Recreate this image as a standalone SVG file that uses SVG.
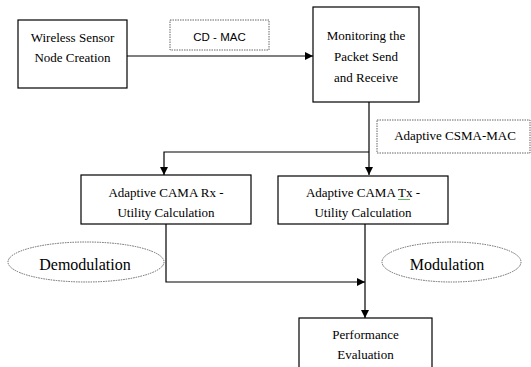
<svg xmlns="http://www.w3.org/2000/svg" width="531" height="367" viewBox="0 0 531 367">
<defs>
<style>
.box{fill:#fff;stroke:#000;stroke-width:1.2}
.lbl{fill:#fff;stroke:#666;stroke-width:1;stroke-dasharray:1.5 1}
.t{font-family:"Liberation Serif","Times New Roman",serif;font-size:13px;fill:#000;text-anchor:middle}
.big{font-size:16px}
.s{font-family:"Liberation Sans",Arial,sans-serif;font-size:11.5px;fill:#000;text-anchor:middle}
.c{fill:none;stroke:#000;stroke-width:1.2}
</style>
<marker id="ah" viewBox="0 0 10 10" refX="10" refY="5" markerWidth="8" markerHeight="8" markerUnits="userSpaceOnUse" orient="auto">
<path d="M0,0 L10,5 L0,10 z" fill="#000"/>
</marker>
</defs>
<rect width="531" height="367" fill="#fff"/>
<g id="connectors">
<path class="c" d="M127,56 H313" stroke="#444" stroke-width="1.8" marker-end="url(#ah)"/>
<path class="c" d="M369,102 V175" marker-end="url(#ah)"/>
<path class="c" d="M369,152 H164 V175" marker-end="url(#ah)"/>
<path class="c" d="M166,224 V282 H365" marker-end="url(#ah)"/>
<path class="c" d="M365,224 V318" marker-end="url(#ah)"/>
</g>
<g id="wireless">
<rect class="box" x="18" y="20" width="109" height="68"/>
<text class="t" x="72.5" y="42">Wireless Sensor</text>
<text class="t" x="72.5" y="62">Node Creation</text>
</g>
<g id="cdmac">
<rect class="lbl" x="170" y="20" width="99" height="30"/>
<text class="s" x="219.5" y="41">CD - MAC</text>
</g>
<g id="monitoring">
<rect class="box" x="313" y="7" width="106" height="95"/>
<text class="t" x="366" y="40">Monitoring the</text>
<text class="t" x="366" y="61">Packet Send</text>
<text class="t" x="366" y="82">and Receive</text>
</g>
<g id="csma">
<rect class="lbl" x="377" y="120" width="153" height="33"/>
<text class="t" x="455" y="140">Adaptive CSMA-MAC</text>
</g>
<g id="rx">
<rect class="box" x="81" y="175" width="170" height="49"/>
<text class="t" x="166" y="197">Adaptive CAMA Rx -</text>
<text class="t" x="166" y="217">Utility Calculation</text>
</g>
<g id="tx">
<rect class="box" x="278" y="176" width="170" height="48"/>
<text class="t" x="363" y="197">Adaptive CAMA Tx -</text>
<path d="M398,200 l1,-1 1,1 1,-1 1,1 1,-1 1,1 1,-1 1,1 1,-1 1,1 1,-1 1,1" fill="none" stroke="#3a3" stroke-width="0.8"/>
<text class="t" x="363" y="217">Utility Calculation</text>
</g>
<g id="demodulation">
<ellipse class="lbl" cx="86" cy="262" rx="78" ry="20"/>
<text class="t big" x="85" y="270">Demodulation</text>
</g>
<g id="modulation">
<ellipse class="lbl" cx="451.5" cy="262" rx="69.5" ry="20"/>
<text class="t big" x="447" y="270">Modulation</text>
</g>
<g id="performance">
<rect class="box" x="299" y="318" width="133" height="60"/>
<text class="t" x="365.5" y="339">Performance</text>
<text class="t" x="365.5" y="359">Evaluation</text>
</g>
</svg>
